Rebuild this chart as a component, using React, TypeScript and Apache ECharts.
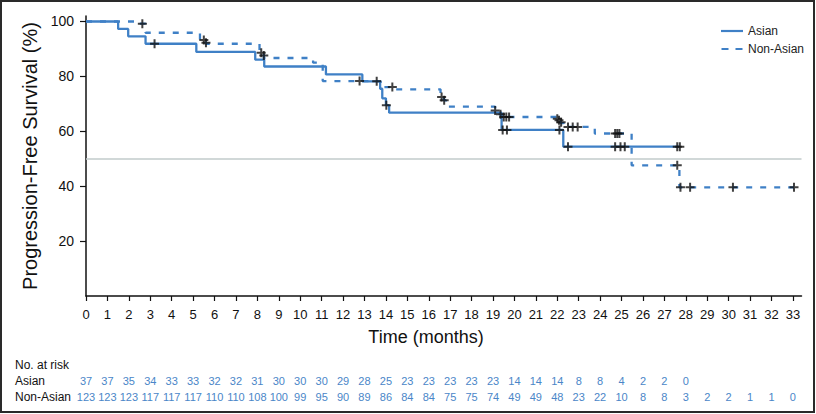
import React, { useEffect, useRef } from "react";
import * as echarts from "echarts";

// Kaplan-Meier steps (time in months, survival %)
const asianTime = [0, 1.5, 1.97, 2.78, 5.15, 7.9, 8.32, 11.2, 12.9, 13.73, 13.83, 14.0, 14.15, 19.4, 22.28, 27.7];
const asianSurv = [100, 97.3, 94.6, 91.9, 88.9, 86.1, 83.6, 80.7, 78.2, 75.5, 72.0, 69.5, 66.8, 60.5, 54.4, 54.4];

const nonAsianTime = [0, 2.36, 2.78, 5.32, 5.6, 8.1, 8.3, 10.6, 11.05, 13.75, 14.4, 16.55, 16.7, 16.8, 19.1, 19.3, 19.55, 22.0, 22.15, 22.3, 23.75, 25.47, 27.7, 33.05];
const nonAsianSurv = [100, 99.2, 95.9, 93.3, 91.9, 88.6, 86.7, 85.0, 78.3, 76.1, 75.3, 72.5, 71.3, 69.0, 67.6, 66.2, 65.2, 64.3, 63.0, 61.6, 59.2, 47.6, 39.6, 39.6];

// Censored observations
const asianCensorTime = [3.2, 13.57, 14.02, 19.45, 19.65, 22.1, 22.5, 24.7, 24.95, 25.15, 27.6, 27.72];
const asianCensorSurv = [91.9, 78.2, 69.5, 60.5, 60.5, 60.5, 54.4, 54.4, 54.4, 54.4, 54.4, 54.4];

const nonAsianCensorTime = [2.63, 5.5, 5.6, 8.18, 8.3, 12.77, 14.3, 16.6, 16.72, 19.1, 19.35, 19.5, 19.62, 19.75, 22.0, 22.08, 22.18, 22.5, 22.72, 22.95, 24.7, 24.8, 24.9, 27.6, 27.75, 28.2, 30.2, 33.05];
const nonAsianCensorSurv = [99.2, 93.3, 92.3, 88.6, 87.6, 78.3, 76.1, 72.5, 71.3, 67.6, 66.2, 65.2, 65.2, 65.2, 64.6, 64.0, 63.3, 61.6, 61.6, 61.6, 59.2, 59.2, 59.2, 47.6, 39.6, 39.6, 39.6, 39.6];

// Number at risk
const asianRisk = [37, 37, 35, 34, 33, 33, 32, 32, 31, 30, 30, 30, 29, 28, 25, 23, 23, 23, 23, 23, 14, 14, 14, 8, 8, 4, 2, 2, 0];
const nonAsianRisk = [123, 123, 123, 117, 117, 117, 110, 110, 108, 100, 99, 95, 90, 89, 86, 84, 84, 75, 75, 74, 49, 49, 48, 23, 22, 10, 8, 8, 3, 2, 2, 1, 1, 0];

const xTicks = Array.from({ length: 34 }, (_, i) => i);
const yTicks = [20, 40, 60, 80, 100];
const seriesNames = ["Asian", "Non-Asian"];

const BLUE = "#3f80c6";
const RISK_BLUE = "#4a86c8";
const FONT = "'Liberation Sans', Arial, sans-serif";
const PLUS = "path://M3.5,0H5.5V3.5H9V5.5H5.5V9H3.5V5.5H0V3.5H3.5Z";
const SOLID_ICON = "path://M0,0H22V2.2H0Z";
const DASH_ICON = "path://M0,0H7V2.2H0ZM14,0H21V2.2H14Z";

export default function App() {
  const ref = useRef<HTMLDivElement>(null);
  useEffect(() => {
    const chart = echarts.init(ref.current!, null, { renderer: "svg" });
    const asianRiskTicks = asianRisk.map((_, i) => i);
    const nonAsianRiskTicks = nonAsianRisk.map((_, i) => i);
    const option: any = {
      animation: false,
      backgroundColor: "#fff",
      textStyle: { fontFamily: FONT },
      grid: { left: 86, top: 16, width: 715.5, height: 280, containLabel: false },
      legend: {
        data: [
          { name: seriesNames[0], icon: SOLID_ICON },
          { name: seriesNames[1], icon: DASH_ICON },
        ],
        orient: "vertical",
        left: 716,
        top: 20,
        itemWidth: 22,
        itemHeight: 2.2,
        itemGap: 6,
        itemStyle: { color: BLUE },
        textStyle: { fontSize: 12, color: "#222", fontFamily: FONT },
      },
      xAxis: [
        {
          type: "value",
          min: 0,
          max: 33.4,
          position: "bottom",
          axisLine: { show: true, lineStyle: { color: "#111", width: 1.5 } },
          axisTick: { show: true, customValues: xTicks, length: 5, lineStyle: { color: "#111", width: 1.2 } },
          axisLabel: { customValues: xTicks, fontSize: 13, color: "#111", margin: 12 },
          splitLine: { show: false },
        },
        {
          type: "value",
          min: 0,
          max: 33.4,
          position: "bottom",
          axisLine: { show: false },
          axisTick: { show: false },
          splitLine: { show: false },
          axisLabel: {
            customValues: asianRiskTicks,
            fontSize: 11,
            color: RISK_BLUE,
            margin: 79,
            formatter: (v: number) => String(asianRisk[Math.round(v)]),
          },
        },
        {
          type: "value",
          min: 0,
          max: 33.4,
          position: "bottom",
          axisLine: { show: false },
          axisTick: { show: false },
          splitLine: { show: false },
          axisLabel: {
            customValues: nonAsianRiskTicks,
            fontSize: 11,
            color: RISK_BLUE,
            margin: 95,
            formatter: (v: number) => String(nonAsianRisk[Math.round(v)]),
          },
        },
      ],
      yAxis: {
        type: "value",
        min: 0,
        max: 102,
        axisLine: { show: true, lineStyle: { color: "#111", width: 1.5 } },
        axisTick: { show: true, customValues: yTicks, length: 6, lineStyle: { color: "#111", width: 1.2 } },
        axisLabel: { customValues: yTicks, fontSize: 14, color: "#111", margin: 12 },
        splitLine: { show: false },
        name: "Progression-Free Survival (%)",
        nameLocation: "middle",
        nameGap: 46,
        nameTextStyle: { fontSize: 20, color: "#111" },
      },
      series: [
        {
          name: seriesNames[0],
          type: "line",
          step: "end",
          symbol: "none",
          data: asianTime.map((t, i) => [t, asianSurv[i]]),
          lineStyle: { color: BLUE, width: 2.3, type: "solid" },
          itemStyle: { color: BLUE },
          z: 3,
          markLine: {
            silent: true,
            symbol: ["none", "none"],
            label: { show: false },
            lineStyle: { color: "#c2cbcb", width: 1.5, type: "solid" },
            data: [{ yAxis: 50 }],
          },
        },
        {
          name: seriesNames[1],
          type: "line",
          step: "end",
          symbol: "none",
          data: nonAsianTime.map((t, i) => [t, nonAsianSurv[i]]),
          lineStyle: { color: BLUE, width: 2.3, type: [6, 8] },
          itemStyle: { color: BLUE },
          z: 3,
        },
        {
          name: "Asian censored",
          type: "scatter",
          symbol: PLUS,
          symbolSize: 9,
          itemStyle: { color: "#111" },
          data: asianCensorTime.map((t, i) => [t, asianCensorSurv[i]]),
          z: 5,
        },
        {
          name: "Non-Asian censored",
          type: "scatter",
          symbol: PLUS,
          symbolSize: 9,
          itemStyle: { color: "#111" },
          data: nonAsianCensorTime.map((t, i) => [t, nonAsianCensorSurv[i]]),
          z: 5,
        },
      ],
      graphic: [
        {
          type: "rect",
          shape: { x: 1, y: 1, width: 813, height: 411 },
          style: { fill: "none", stroke: "#2a2a2a", lineWidth: 2 },
          silent: true,
        },
        {
          type: "text",
          style: { text: "Time (months)", x: 426, y: 337, fontSize: 18, fontFamily: FONT, fill: "#111", align: "center", verticalAlign: "middle", textAlign: "center", textVerticalAlign: "middle" },
        },
        {
          type: "text",
          style: { text: "No. at risk", x: 15, y: 365, fontSize: 12, fontFamily: FONT, fill: "#111", verticalAlign: "middle", textVerticalAlign: "middle" },
        },
        {
          type: "text",
          style: { text: "Asian", x: 15, y: 381, fontSize: 12, fontFamily: FONT, fill: "#111", verticalAlign: "middle", textVerticalAlign: "middle" },
        },
        {
          type: "text",
          style: { text: "Non-Asian", x: 15, y: 397, fontSize: 12, fontFamily: FONT, fill: "#111", verticalAlign: "middle", textVerticalAlign: "middle" },
        },
      ],
    };
    chart.setOption(option);
    return () => chart.dispose();
  }, []);
  return (
    <div
      ref={ref}
      style={{ position: "fixed", left: 0, top: 0, width: 816, height: 414, background: "#fff" }}
    />
  );
}
